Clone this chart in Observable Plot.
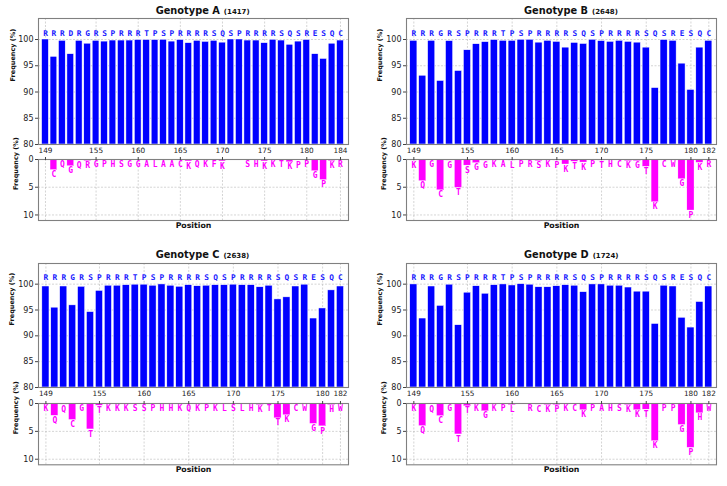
<!DOCTYPE html>
<html><head><meta charset="utf-8">
<script src="https://cdn.jsdelivr.net/npm/d3@7"></script>
<script src="https://cdn.jsdelivr.net/npm/@observablehq/plot@0.6"></script>
<style>
body{margin:0;background:#fff;}
#root{position:relative;width:727px;height:486px;font-family:"DejaVu Sans",sans-serif;overflow:hidden;}
.p{position:absolute;}
.title{position:absolute;white-space:nowrap;font-weight:bold;color:#111;font-size:9.8px;line-height:12px;}
.title .n{font-size:7px;margin-left:4px;}
</style></head><body><div id="root"></div>
<script>
// ---------- data ----------
const posA = [149,150,151,152,153,154,155,156,157,158,159,160,161,162,163,164,165,166,167,168,169,170,171,172,173,174,175,176,177,178,179,180,181,182,183,184];
const posBCD = [149,150,151,152,153,154,155,156,157,158,159,160,161,162,163,164,165,166,167,168,169,170,171,172,173,174,175,176,177,178,179,180,181,182];
const ticksA = [149,155,160,165,170,175,180,184];
const ticksBCD = [149,155,160,165,170,175,180,182];

const consA = ["R","R","R","D","R","G","R","S","P","R","R","R","T","P","S","P","R","R","R","R","S","Q","S","P","R","R","R","R","S","Q","S","R","E","S","Q","C"];
const consBCD = ["R","R","R","G","R","S","P","R","R","R","T","P","S","P","R","R","R","R","S","Q","S","P","R","R","R","R","S","Q","S","R","E","S","Q","C"];

const topA = [100.0,96.7,99.75,97.2,99.75,99.2,99.75,99.6,99.8,99.8,99.8,99.9,99.9,99.9,99.95,99.6,99.9,99.3,99.75,99.55,99.75,99.4,100,100,99.8,99.8,99.3,99.95,99.8,99.0,99.6,99.9,97.2,96.3,99.2,99.8];
const varLetA = ["","C","Q","G","Q","R","G","P","H","S","G","G","A","L","A","A","C","K","Q","K","F","K","","","S","H","K","K","T","K","P","P","G","P","K","R"];
const varA = [0,1.9,0.1,1.2,0.15,0.3,0.1,0.1,0.1,0.1,0.1,0.1,0.05,0.05,0.05,0.1,0.05,0.35,0.1,0.1,0.1,0.35,0,0,0.1,0.1,0.35,0.05,0.1,0.5,0.15,0.1,2.1,3.7,0.3,0.1];

const topB = [99.75,93.1,99.75,92.1,99.7,94.0,97.95,99.1,99.5,99.9,99.75,99.75,99.95,99.95,99.4,99.75,99.55,98.45,99.35,99.15,99.95,99.7,99.55,99.75,99.55,99.4,98.45,90.75,99.9,99.75,95.4,90.4,98.45,99.75];
const varLetB = ["K","Q","G","C","G","T","S","G","G","K","A","L","P","R","S","K","P","K","T","K","P","T","H","C","K","G","T","K","C","W","G","P","K","R"];
const varB = [0.2,3.9,0.1,5.55,0.2,5.1,1.1,0.65,0.2,0.1,0.1,0.2,0.1,0.1,0.3,0.1,0.2,0.9,0.4,0.55,0.05,0.2,0.1,0.1,0.3,0.3,1.3,7.7,0.1,0.1,3.55,9.2,0.6,0.1];

const topC = [99.55,95.45,99.55,95.9,99.5,94.6,98.7,99.7,99.7,99.8,99.9,99.9,99.7,99.95,99.7,99.5,99.8,99.6,99.7,99.8,99.8,99.9,99.8,99.8,99.4,99.7,97.05,97.45,99.55,99.9,93.35,95.3,98.8,99.55];
const varLetC = ["K","Q","Q","C","G","T","T","K","K","K","S","S","P","H","H","K","Q","K","P","K","L","S","L","H","K","T","T","K","C","W","G","P","H","W"];
const varC = [0.1,2.2,0.2,2.95,0.1,4.65,0.4,0.1,0.1,0.1,0.05,0.05,0.1,0.05,0.05,0.1,0.1,0.1,0.05,0.05,0.05,0.05,0.05,0.05,0.3,0.05,2.65,2.1,0.05,0.05,3.65,4.1,0.3,0.05];

const topD = [99.95,93.35,99.55,95.8,99.9,92.05,98.35,99.6,98.15,99.8,99.95,99.75,100,99.9,99.4,99.4,99.6,99.8,99.7,98.45,99.95,99.95,99.7,99.7,99.35,98.55,98.55,92.3,99.7,99.55,93.5,91.6,96.55,99.55];
const varLetD = ["K","Q","Q","C","G","T","T","K","G","K","P","L","","R","C","K","P","K","C","K","P","A","H","S","K","K","T","K","P","P","G","P","H","W"];
const varD = [0.05,4.05,0.15,2.25,0.05,5.55,0.5,0.1,1.4,0.1,0.05,0.3,0,0.05,0.2,0.3,0.3,0.05,0.05,1.2,0.05,0.05,0.05,0.05,0.3,1.2,1.1,6.75,0.05,0.05,3.85,7.95,1.75,0.1];

const genotypes = [
  {name:"Genotype A", n:"(1417)", pos:posA, ticks:ticksA, cons:consA, top:topA, vlet:varLetA, v:varA, xdom:[148.17,184.95]},
  {name:"Genotype B", n:"(2648)", pos:posBCD, ticks:ticksBCD, cons:consBCD, top:topB, vlet:varLetB, v:varB, xdom:[148.18,182.86]},
  {name:"Genotype C", n:"(2638)", pos:posBCD, ticks:ticksBCD, cons:consBCD, top:topC, vlet:varLetC, v:varC, xdom:[148.17,182.9]},
  {name:"Genotype D", n:"(1724)", pos:posBCD, ticks:ticksBCD, cons:consBCD, top:topD, vlet:varLetD, v:varD, xdom:[148.18,182.86]}
];

// ---------- layout ----------
const layout = [
  {left:0,   top:0,   w:364, ml:38, mr:16, tTop:18, tBot:144, bTop:159, bBot:220, titleX:155.7, titleY:5.3, ylab:26, posY:227},
  {left:364, top:0,   w:363, ml:42, mr:11, tTop:18, tBot:144, bTop:159, bBot:220, titleX:524,   titleY:5.3, ylab:27, posY:227},
  {left:0,   top:240, w:364, ml:38, mr:16, tTop:263, tBot:387, bTop:402.7, bBot:464, titleX:155.7, titleY:249.3, ylab:27, posY:471},
  {left:364, top:240, w:363, ml:42, mr:11, tTop:263, tBot:387, bTop:402.7, bBot:464, titleX:524,   titleY:249.3, ylab:27, posY:471}
];

const root = document.getElementById("root");
const gridStyle = {stroke:"#b8b8b8", strokeOpacity:1, strokeWidth:0.6, strokeDasharray:"2,1.5"};
const axStyle = {fill:"#222", stroke:"#444", fontFamily:"DejaVu Sans"};

function place(el, left, top) {
  el.classList.add("p");
  el.style.left = left + "px";
  el.style.top = top + "px";
  root.appendChild(el);
}

genotypes.forEach((g, k) => {
  const L = layout[k];
  const topData = g.pos.map((p,i)=>({p, c:g.cons[i], v:g.top[i]}));
  const varData = g.pos.map((p,i)=>({p, c:g.vlet[i], v:g.v[i]}));

  // upper panel: consensus frequency
  const h1 = 160;
  const svgTop = L.top;
  const upper = Plot.plot({
    width: L.w, height: h1,
    marginLeft: L.ml, marginRight: L.mr,
    marginTop: L.tTop - svgTop, marginBottom: svgTop + h1 - L.tBot,
    style: {background:"transparent", fontFamily:"DejaVu Sans", overflow:"visible"},
    x: {type:"linear", domain:g.xdom},
    y: {domain:[80,104]},
    marks: [
      Plot.gridX(g.ticks, gridStyle),
      Plot.gridY([85,90,95,100], gridStyle),
      Plot.rectY(topData, {x1:d=>d.p-0.4, x2:d=>d.p+0.4, y1:80, y2:"v", fill:"#0000ff", stroke:"white", strokeWidth:0.5}),
      Plot.text(topData, {x:"p", y:101.2, text:"c", fill:"#1a1aff", fontFamily:"DejaVu Sans Mono", fontWeight:"bold", fontSize:7.8}),
      Plot.frame({stroke:"#808080", strokeWidth:1.1}),
      Plot.axisY({ticks:[80,85,90,95,100], tickSize:3, tickPadding:2, fontSize:8, label:null, ...axStyle}),
      Plot.axisX({ticks:g.ticks, tickSize:0, tickPadding:3, fontSize:7.3, label:null, ...axStyle}),
      Plot.text(["Frequency (%)"], {frameAnchor:"left", rotate:-90, dx:-L.ylab, fontWeight:"bold", fontSize:6.5, fill:"#111"})
    ]
  });
  place(upper, L.left, svgTop);

  // lower panel: variant frequency
  const svgTop2 = L.bTop - 12;
  const h2 = 90;
  const lower = Plot.plot({
    width: L.w, height: h2,
    marginLeft: L.ml, marginRight: L.mr,
    marginTop: L.bTop - svgTop2, marginBottom: svgTop2 + h2 - L.bBot,
    style: {background:"transparent", fontFamily:"DejaVu Sans", overflow:"visible"},
    x: {type:"linear", domain:g.xdom},
    y: {domain:[0,11], reverse:true},
    marks: [
      Plot.gridX(g.ticks, gridStyle),
      Plot.gridY([5,10], gridStyle),
      Plot.rectY(varData, {x1:d=>d.p-0.4, x2:d=>d.p+0.4, y1:0, y2:"v", fill:"#ff00ff", stroke:"white", strokeWidth:0.3}),
      Plot.text(varData, {filter:d=>d.c !== "", x:"p", y:"v", text:"c", lineAnchor:"top", dy:1.5, fill:"#ff00ff", fontFamily:"DejaVu Sans Mono", fontWeight:"bold", fontSize:8}),
      Plot.frame({stroke:"#808080", strokeWidth:1.1}),
      Plot.axisY({ticks:[0,5,10], tickSize:3, tickPadding:2, fontSize:8, label:null, ...axStyle}),
      Plot.axisX({anchor:"top", ticks:g.ticks, tickSize:3, tickFormat:()=>"", label:null, ...axStyle}),
      Plot.text(["Frequency (%)"], {frameAnchor:"left", rotate:-90, dx:-23, fontWeight:"bold", fontSize:6.5, fill:"#111"}),
      Plot.text(["Position"], {frameAnchor:"bottom", dy:L.posY - L.bBot, fontWeight:"bold", fontSize:7.8, fill:"#111"})
    ]
  });
  place(lower, L.left, svgTop2);

  const t = document.createElement("div");
  t.className = "title";
  t.style.left = L.titleX + "px";
  t.style.top = L.titleY + "px";
  t.innerHTML = g.name + '<span class="n">' + g.n + '</span>';
  root.appendChild(t);
});
</script></body></html>
